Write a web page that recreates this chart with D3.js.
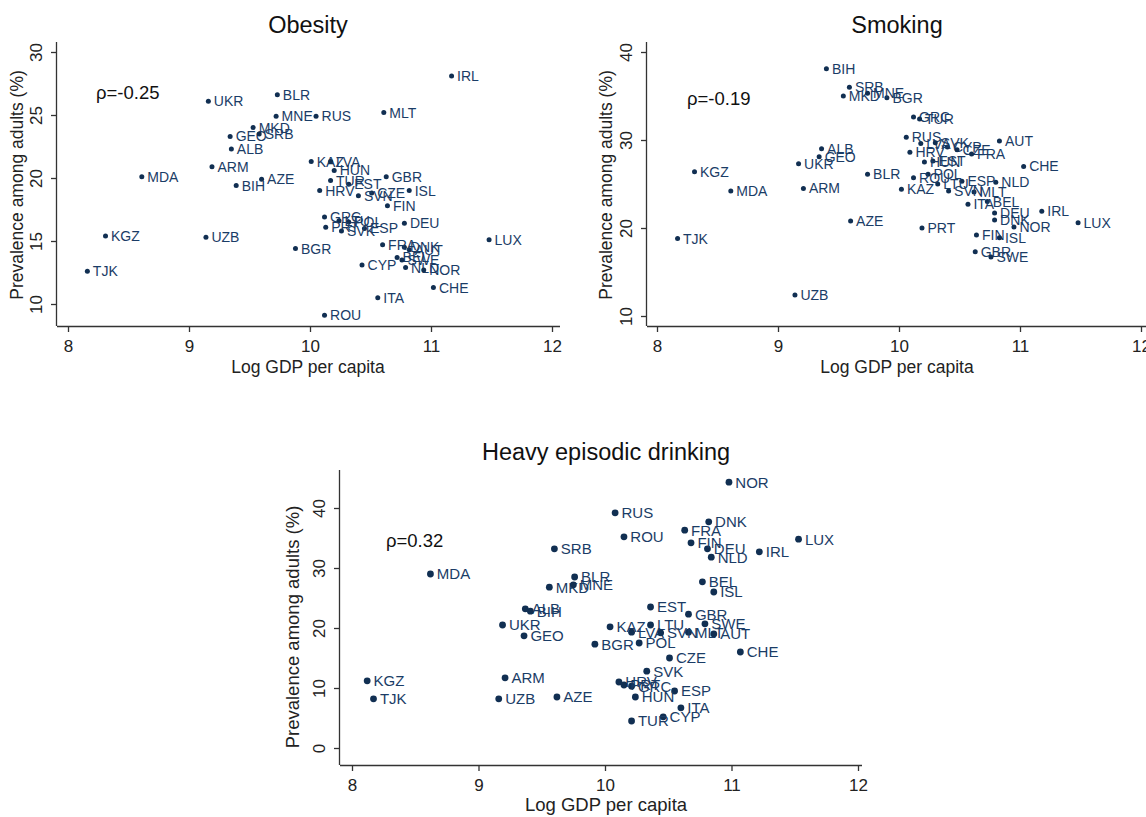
<!DOCTYPE html>
<html>
<head>
<meta charset="utf-8">
<script src="https://cdn.jsdelivr.net/npm/d3@7"></script>
<style>
  body { margin: 0; background: #fff; }
  svg text { font-family: "Liberation Sans", Arial, sans-serif; }
  .lbl { fill: #1a3c66; }
  .dot { fill: #112f52; }
</style>
</head>
<body>
<div id="chart"></div>
<script>
// country codes, same order in every array below
var codes = ['ALB','ARM','AUT','AZE','BEL','BGR','BIH','BLR','CHE','CYP','CZE','DEU','DNK','ESP','EST','FIN',
  'FRA','GBR','GEO','GRC','HRV','HUN','IRL','ISL','ITA','KAZ','KGZ','LTU','LUX','LVA','MDA','MKD',
  'MLT','MNE','NLD','NOR','POL','PRT','ROU','RUS','SRB','SVK','SVN','SWE','TJK','TUR','UKR','UZB'];

// obesity
var gdpObesity = [9.35,9.19,10.82,9.60,10.72,9.88,9.39,9.73,11.02,10.43,10.51,10.78,10.78,10.45,10.32,10.64,
  10.60,10.63,9.34,10.12,10.08,10.20,11.17,10.82,10.56,10.01,8.31,10.24,11.48,10.17,8.61,9.53,
  10.61,9.72,10.79,10.94,10.32,10.13,10.12,10.05,9.58,10.26,10.40,10.76,8.16,10.17,9.16,9.14];
var obesity = [22.3,20.9,14.3,19.9,13.7,14.4,19.4,26.6,11.3,13.1,18.8,16.4,14.5,16.0,19.5,17.8,
  14.7,20.1,23.3,16.9,19.0,20.6,28.1,19.0,10.5,21.3,15.4,16.6,15.1,21.3,20.1,24.0,
  25.2,24.9,12.9,12.7,16.5,16.1,9.1,24.9,23.5,15.8,18.6,13.5,12.6,19.8,26.1,15.3];

// smoking
var gdpSmoking = [9.36,9.21,10.83,9.60,10.73,9.90,9.40,9.74,11.03,10.40,10.48,10.79,10.79,10.52,10.28,10.64,
  10.60,10.63,9.34,10.12,10.09,10.21,11.18,10.83,10.57,10.02,8.31,10.32,11.48,10.18,8.61,9.54,
  10.62,9.74,10.80,10.95,10.24,10.19,10.12,10.06,9.59,10.30,10.41,10.76,8.17,10.17,9.17,9.14];
var smoking = [29.0,24.5,29.9,20.8,23.0,34.8,38.1,26.1,27.0,29.2,28.9,21.7,20.9,25.3,27.6,19.2,
  28.4,17.3,28.1,32.6,28.6,27.5,21.9,18.9,22.7,24.4,26.4,25.0,20.6,29.6,24.2,35.0,
  24.1,35.3,25.2,20.1,26.1,20.0,25.7,30.3,36.0,29.7,24.2,16.7,18.8,32.4,27.3,12.4];

// heavy episodic drinking
var gdpDrinking = [9.37,9.21,10.86,9.62,10.77,9.92,9.41,9.76,11.07,10.46,10.51,10.81,10.82,10.55,10.36,10.68,
  10.63,10.66,9.36,10.21,10.11,10.24,11.22,10.86,10.60,10.04,8.12,10.36,11.53,10.21,8.62,9.56,
  10.66,9.75,10.84,10.98,10.27,10.15,10.15,10.08,9.60,10.33,10.44,10.79,8.17,10.21,9.19,9.16];
var drinking = [23.2,11.7,19.0,8.5,27.7,17.3,22.8,28.5,16.0,5.2,15.0,33.2,37.7,9.5,23.5,34.2,
  36.3,22.3,18.7,10.3,11.0,8.5,32.7,26.0,6.7,20.2,11.2,20.5,34.8,19.3,29.0,26.8,
  19.3,27.2,31.8,44.3,17.5,10.5,35.2,39.2,33.2,12.8,19.2,20.7,8.2,4.5,20.5,8.2];

var xTicks = [8, 9, 10, 11, 12];
var obesityTicks = [10, 15, 20, 25, 30];
var smokingTicks = [10, 20, 30, 40];
var drinkingTicks = [0, 10, 20, 30, 40];

var titles = ['Obesity', 'Smoking', 'Heavy episodic drinking'];
var rhos = ['\u03c1=-0.25', '\u03c1=-0.19', '\u03c1=0.32'];

const svg = d3.select('#chart').append('svg')
  .attr('width', 1146)
  .attr('height', 817);

function makeRows(gdp, vals) {
  return codes.map(function(c, i) { return {code: c, x: gdp[i], y: vals[i]}; });
}

function drawPanel(opt) {
  const g = svg.append('g');

  const x = d3.scaleLinear().domain([8, 12]).range([opt.x8, opt.x12]);
  const y = d3.scaleLinear().domain(opt.yDom).range(opt.yRange);

  // x axis
  const xAxis = g.append('g')
    .attr('transform', `translate(0,${opt.bottom})`)
    .call(d3.axisBottom(x).tickValues(xTicks).tickSize(6).tickPadding(8).tickFormat(d3.format('d')));
  xAxis.select('.domain').attr('d', `M${opt.left},0.5H${opt.right}`);
  xAxis.selectAll('text').attr('font-size', opt.tickFont).attr('fill', '#222');

  // y axis, labels turned as in stata
  const yAxis = g.append('g')
    .attr('transform', `translate(${opt.left},0)`)
    .call(d3.axisLeft(y).tickValues(opt.yTicks).tickSize(6).tickFormat(d3.format('d')));
  yAxis.select('.domain').attr('d', `M-0.5,${opt.top}V${opt.bottom}`);
  yAxis.selectAll('.tick text')
    .attr('font-size', opt.tickFont)
    .attr('fill', '#222')
    .attr('x', null).attr('dy', null)
    .attr('text-anchor', 'middle')
    .attr('transform', 'translate(-15,0) rotate(-90)');

  g.selectAll('.domain, .tick line').attr('stroke', '#333').attr('stroke-width', 1.3);

  // titles
  g.append('text')
    .attr('x', opt.cx).attr('y', opt.titleY)
    .attr('text-anchor', 'middle')
    .attr('font-size', opt.titleFont)
    .attr('fill', '#111')
    .text(opt.title);

  g.append('text')
    .attr('x', opt.cx).attr('y', opt.xTitleY)
    .attr('text-anchor', 'middle')
    .attr('font-size', opt.axisFont)
    .attr('fill', '#222')
    .text('Log GDP per capita');

  g.append('text')
    .attr('transform', `translate(${opt.yTitleX},${opt.yTitleCy}) rotate(-90)`)
    .attr('text-anchor', 'middle')
    .attr('font-size', opt.axisFont)
    .attr('fill', '#222')
    .text('Prevalence among adults (%)');

  g.append('text')
    .attr('x', opt.rhoX).attr('y', opt.rhoY)
    .attr('font-size', opt.rhoFont)
    .attr('fill', '#111')
    .text(opt.rho);

  // points
  const pts = g.append('g').selectAll('g')
    .data(opt.rows)
    .enter().append('g')
    .attr('transform', (d) => `translate(${x(d.x)},${y(d.y)})`);

  pts.append('circle')
    .attr('class', 'dot')
    .attr('r', opt.r);

  pts.append('text')
    .attr('class', 'lbl')
    .attr('x', opt.r + 3)
    .attr('dy', '.36em')
    .attr('font-size', opt.labelFont)
    .text((d) => d.code);
}

drawPanel({
  title: titles[0], rho: rhos[0], rows: makeRows(gdpObesity, obesity),
  x8: 68, x12: 552, yDom: [10, 30], yRange: [304, 52], yTicks: obesityTicks,
  left: 57, right: 560, top: 42, bottom: 326,
  cx: 308, titleY: 33, xTitleY: 373, yTitleX: 23, yTitleCy: 185,
  rhoX: 96, rhoY: 99,
  tickFont: 17, axisFont: 17.5, titleFont: 23.5, rhoFont: 18.5, labelFont: 14, r: 2.5
});

drawPanel({
  title: titles[1], rho: rhos[1], rows: makeRows(gdpSmoking, smoking),
  x8: 657, x12: 1141, yDom: [10, 40], yRange: [316, 52], yTicks: smokingTicks,
  left: 647, right: 1146, top: 42, bottom: 326,
  cx: 897, titleY: 33, xTitleY: 373, yTitleX: 612, yTitleCy: 185,
  rhoX: 687, rhoY: 105,
  tickFont: 17, axisFont: 17.5, titleFont: 23.5, rhoFont: 18.5, labelFont: 14, r: 2.5
});

drawPanel({
  title: titles[2], rho: rhos[2], rows: makeRows(gdpDrinking, drinking),
  x8: 352, x12: 858, yDom: [0, 40], yRange: [748, 508], yTicks: drinkingTicks,
  left: 340, right: 862, top: 470, bottom: 765,
  cx: 606, titleY: 460, xTitleY: 811, yTitleX: 299, yTitleCy: 627,
  rhoX: 386, rhoY: 547,
  tickFont: 17, axisFont: 18.5, titleFont: 23.5, rhoFont: 18.5, labelFont: 15, r: 3.4
});
</script>
</body>
</html>
